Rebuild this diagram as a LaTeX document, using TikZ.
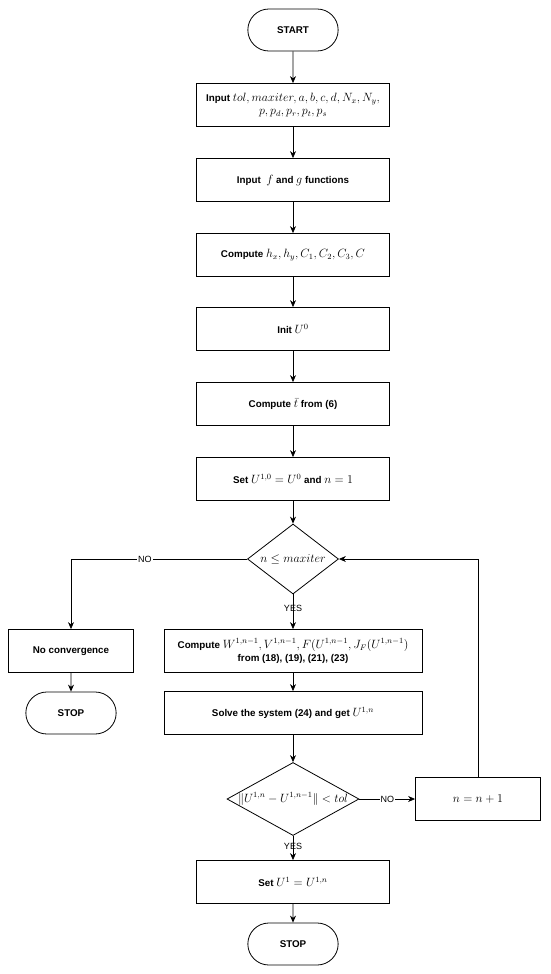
\documentclass[tikz,border=0pt]{standalone}
\usepackage{fontspec}
\setmainfont{Liberation Sans}
\usetikzlibrary{shapes.geometric,shapes.misc,arrows.meta}
\DeclareMathSizes{9.8}{11.5}{8.3}{6.3}

\begin{document}
\begin{tikzpicture}[x=1pt,y=-1pt,
  every path/.style={line width=0.8pt},
  box/.style={draw,rectangle,minimum width=193pt,minimum height=43pt,inner sep=2pt,align=center,font=\fontsize{9.8}{13}\selectfont\bfseries},
  widebox/.style={box,minimum width=258pt},
  smallbox/.style={box,minimum width=125pt},
  term/.style={draw,rounded rectangle,minimum width=97pt,minimum height=42pt,font=\fontsize{9.8}{13}\selectfont\bfseries},
  decision/.style={draw,diamond,inner sep=0pt,label distance=0pt},
  arrow/.style={-{Stealth[length=7pt,width=6pt]}},
  answer/.style={font=\fontsize{9}{11}\selectfont,inner sep=1pt}]
\useasboundingbox (0,0) rectangle (550,974);
%main column
\node[term] (start) at (293,30) {START};
\node[box] (input) at (293,105) {Input $tol, maxiter, a, b, c, d, N_x, N_y,$\\$p, p_d, p_r, p_t, p_s$};
\node[box] (funcs) at (293,180) {Input ~$f$ and $g$ functions};
\node[box] (consts) at (293,255) {Compute $h_x, h_y, C_1, C_2, C_3, C$};
\node[box] (init) at (293,329) {Init $U^0$};
\node[box] (tbar) at (293,404) {Compute $\bar{t}$ from (6)};
\node[box] (setzero) at (293,479) {Set $U^{1,0}=U^0$ and $n=1$};
\node[decision,minimum width=91pt,minimum height=70pt,label={[font=\fontsize{9.8}{13}\selectfont]center:$n\leq maxiter$}] (iter) at (293,559) {};
\node[widebox] (compute) at (293,651) {Compute $W^{1,n-1},V^{1,n-1},F(U^{1,n-1},J_F(U^{1,n-1})$\\from (18), (19), (21), (23)};
\node[widebox] (solve) at (293,713) {Solve the system (24) and get $U^{1,n}$};
\node[decision,minimum width=132pt,minimum height=73pt,label={[font=\fontsize{9.8}{13}\selectfont]center:$\|U^{1,n}-U^{1,n-1}\|<tol$}] (conv) at (293,799) {};
\node[box] (setone) at (293,882) {Set $U^1=U^{1,n}$};
\node[term] (stop) at (293,944) {STOP};
%side branches
\node[smallbox] (fail) at (71,651) {No convergence};
\node[term] (stopfail) at (71,713) {STOP};
\node[smallbox,font=\fontsize{9.8}{13}\selectfont] (incr) at (478,799) {$n=n+1$};

%connectors
\draw[arrow] (start) -- (input);
\draw[arrow] (input) -- (funcs);
\draw[arrow] (funcs) -- (consts);
\draw[arrow] (consts) -- (init);
\draw[arrow] (init) -- (tbar);
\draw[arrow] (tbar) -- (setzero);
\draw[arrow] (setzero) -- (iter);
\draw[arrow] (iter.west) -| node[answer,fill=white,pos=0.29] {NO} (fail.north);
\draw[arrow] (iter.south) -- node[answer,pos=0.4] {YES} (compute);
\draw[arrow] (fail) -- (stopfail);
\draw[arrow] (compute) -- (solve);
\draw[arrow] (solve) -- (conv);
\draw[arrow] (conv.east) -- node[answer,fill=white] {NO} (incr);
\draw[arrow] (incr.north) |- (iter.east);
\draw[arrow] (conv.south) -- node[answer,pos=0.45] {YES} (setone);
\draw[arrow] (setone) -- (stop);
\end{tikzpicture}
\end{document}
